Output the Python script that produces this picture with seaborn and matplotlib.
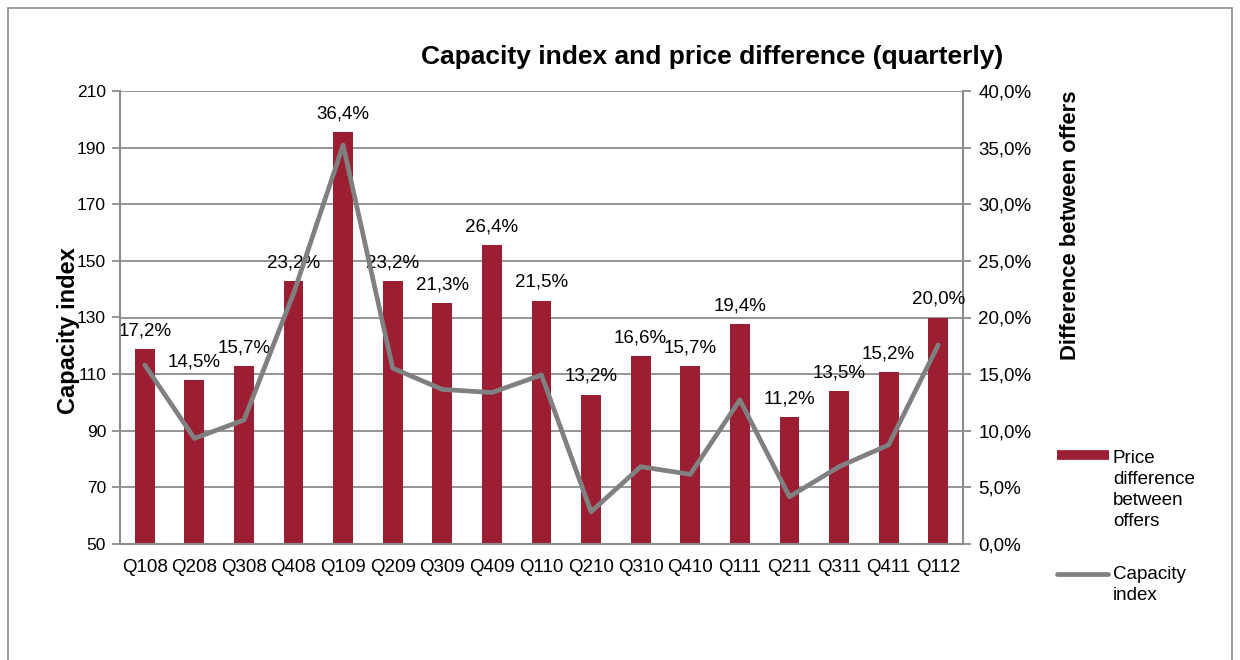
import numpy as np
import pandas as pd
import seaborn as sns
import matplotlib.pyplot as plt
from matplotlib.lines import Line2D
from matplotlib.patches import Rectangle
from matplotlib.ticker import FuncFormatter, FixedLocator

quarters = ["Q108", "Q208", "Q308", "Q408", "Q109", "Q209", "Q309", "Q409", "Q110",
            "Q210", "Q310", "Q410", "Q111", "Q211", "Q311", "Q411", "Q112"]
price_diff = [17.2, 14.5, 15.7, 23.2, 36.4, 23.2, 21.3, 26.4, 21.5,
              13.2, 16.6, 15.7, 19.4, 11.2, 13.5, 15.2, 20.0]
capacity = [113.2, 87.3, 93.8, 138.5, 190.9, 112.1, 104.6, 103.5, 109.7,
            61.4, 77.3, 74.6, 100.9, 66.7, 77.3, 85.0, 120.3]

bar_color = "#9B1E33"
line_color = "#808080"
axis_gray = "#8C8C8C"

sns.set_style("white")
plt.rcParams["font.family"] = ["Liberation Sans", "DejaVu Sans"]
plt.rcParams["text.color"] = "black"
plt.rcParams["xtick.color"] = "black"
plt.rcParams["ytick.color"] = "black"

df = pd.DataFrame({"quarter": quarters, "price": price_diff, "capacity": capacity})

fig = plt.figure(figsize=(12.4, 6.6), dpi=100)
ax = fig.add_axes([120 / 1240, 1 - 544 / 660, 843 / 1240, 453 / 660])
ax2 = ax.twinx()

# bars on the right axis, behind the line
sns.barplot(data=df, x="quarter", y="price", ax=ax2, color=bar_color,
            saturation=1, width=0.4, edgecolor="none")
sns.lineplot(data=df, x="quarter", y="capacity", ax=ax, color=line_color,
             lw=3.4, sort=False)

ax.set_zorder(2)
ax2.set_zorder(1)
ax.patch.set_visible(False)

ax.set_ylim(50, 210)
ax.set_yticks(np.arange(50, 211, 20))
ax2.set_ylim(0, 40)
ax2.set_yticks(np.arange(0, 41, 5))
ax2.yaxis.set_major_formatter(FuncFormatter(lambda v, p: f"{v:.1f}%".replace(".", ",")))
ax.set_xlim(-0.5, len(quarters) - 0.5)

ax2.set_axisbelow(True)
ax2.yaxis.grid(True, color=axis_gray, lw=1.3)
ax.grid(False)

for c in ax2.containers:
    ax2.bar_label(c, labels=[f"{v:.1f}%".replace(".", ",") for v in price_diff],
                  padding=7, fontsize=13.5, color="black")

ax.set_xlabel("")
ax.set_ylabel("")
ax2.set_xlabel("")
ax2.set_ylabel("")

# x ticks between categories
ax.set_xticks(range(len(quarters)))
ax.set_xticklabels(quarters, fontsize=13.5)
ax.xaxis.set_minor_locator(FixedLocator(np.arange(-0.5, len(quarters), 1)))
ax.tick_params(axis="x", which="major", length=0, pad=11)
ax.tick_params(axis="x", which="minor", length=6, width=1.3, color=axis_gray, direction="out")
ax.tick_params(axis="y", length=6, width=1.3, color=axis_gray, direction="out",
               labelsize=12.5, pad=4, labelcolor="black")
ax2.tick_params(axis="y", length=6, width=1.3, color=axis_gray, direction="out",
                labelsize=13.5, pad=5, labelcolor="black")

for s in ["top", "right"]:
    ax.spines[s].set_visible(False)
for s in ["left", "bottom"]:
    ax.spines[s].set_color(axis_gray)
    ax.spines[s].set_linewidth(1.5)
for s in ["top", "left", "bottom"]:
    ax2.spines[s].set_visible(False)
ax2.spines["right"].set_color(axis_gray)
ax2.spines["right"].set_linewidth(1.5)

fig.text(712 / 1240, 1 - 57 / 660, "Capacity index and price difference (quarterly)",
         ha="center", va="center", fontsize=19, fontweight="bold")
fig.text(68 / 1240, 1 - 331 / 660, "Capacity index", rotation=90,
         ha="center", va="center", fontsize=17, fontweight="bold")
fig.text(1070 / 1240, 1 - 90 / 660, "Difference between offers", rotation=90,
         ha="center", va="top", fontsize=15.8, fontweight="bold")

# legend
fig.add_artist(Line2D([1057 / 1240, 1109 / 1240], [1 - 455 / 660] * 2,
                      color=bar_color, lw=7, solid_capstyle="butt"))
fig.text(1113 / 1240, 1 - 450 / 660, "Price\ndifference\nbetween\noffers",
         ha="left", va="top", fontsize=13.5, linespacing=1.32)
fig.add_artist(Line2D([1057 / 1240, 1108 / 1240], [1 - 574 / 660] * 2,
                      color=line_color, lw=3.4, solid_capstyle="round"))
fig.text(1113 / 1240, 1 - 566 / 660, "Capacity\nindex",
         ha="left", va="top", fontsize=13.5, linespacing=1.32)

fig.add_artist(Rectangle((8 / 1240, -0.1), 1224 / 1240, 1.1 - 8 / 660,
                         transform=fig.transFigure, fill=False,
                         edgecolor=axis_gray, lw=1.2))

fig.savefig("out.png", dpi=100)
